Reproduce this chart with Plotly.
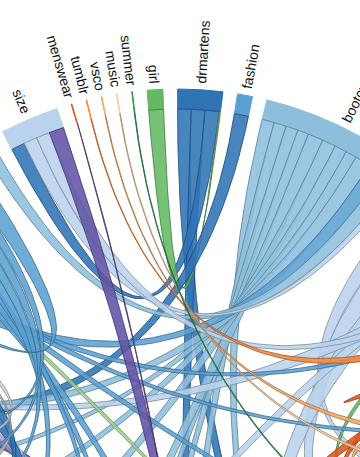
import math
import plotly.graph_objects as go

# ---------------- data ----------------
group_names = ["drmartens", "fashion", "bootcut", "boots", "style", "grunge", "punk", "vintage",
               "docs", "leather", "black", "outfit", "docmartens", "ootd", "streetstyle", "love",
               "shoes", "instagood", "shoeporn", "london", "doc", "boot", "mensstyle", "size",
               "menswear", "tumblr", "vsco", "music", "summer", "girl"]

group_colors = ["#2f73b5", "#5ba0d3", "#8dbfdd", "#b9d3ec", "#f8863a", "#e0571a", "#f7a865", "#f7cc9f",
                "#2f9a4f", "#64b964", "#98d18f", "#c0e3b8", "#6253a5", "#958fc3", "#b5b4d6", "#d2d2e6",
                "#5e5e5e", "#8f8f8f", "#b6b6b6", "#d2d2d2", "#2f73b5", "#5ba0d3", "#8dbfdd", "#b9d3ec",
                "#e0571a", "#f8863a", "#f7a865", "#f7cc9f", "#2f9a4f", "#64b964"]

# chords: source group, target group, width at source end, width at target end
chord_src = [0, 0, 0, 0, 1,
             2, 2, 2, 2, 2, 2, 2, 2, 2, 2, 2, 2,
             3, 12, 12, 4, 6, 7, 8,
             4, 6, 8, 10, 12, 13, 14, 16, 17, 18, 19, 20,
             3, 3, 3, 3, 3,
             4,
             5, 5, 5,
             6, 6, 6,
             7, 7, 7,
             8, 8, 8, 8,
             9, 9,
             10, 10, 10,
             11, 11,
             12, 12, 12,
             13, 13,
             14, 14,
             15, 15,
             16, 17, 17, 18, 19]
chord_tgt = [12, 13, 23, 29, 20,
             12, 13, 14, 15, 16, 17, 18, 19, 20, 21, 22, 23,
             23, 23, 24, 25, 26, 27, 28,
             21, 21, 21, 21, 21, 21, 21, 21, 21, 21, 21, 21,
             8, 10, 12, 16, 20,
             9,
             5, 9, 13,
             8, 11, 13,
             9, 12, 14,
             16, 17, 18, 19,
             16, 17,
             16, 18, 17,
             17, 19,
             16, 18, 20,
             16, 20,
             17, 20,
             16, 20,
             20, 20, 19, 20, 20]
chord_vsrc = [22, 22, 23, 2, 23,
              20, 20, 20, 18, 25, 22, 20, 18, 25, 24, 24, 10,
              15, 30, 3, 18, 12, 8, 4,
              10, 8, 10, 12, 12, 10, 8, 12, 10, 10, 8, 10,
              30, 45, 50, 20, 30,
              12,
              20, 20, 20,
              25, 25, 20,
              20, 17, 15,
              40, 36, 30, 30,
              30, 25,
              30, 30, 28,
              20, 20,
              35, 30, 28,
              28, 25,
              22, 20,
              22, 20,
              28, 25, 20, 20, 15]
chord_vtgt = [20, 15, 22, 24, 30,
              15, 12, 10, 8, 20, 18, 15, 10, 20, 25, 18, 22,
              22, 24, 1, 1, 1, 1, 1,
              14, 12, 14, 8, 18, 16, 14, 20, 18, 18, 16, 27,
              20, 30, 35, 15, 12,
              15,
              20, 15, 15,
              20, 20, 15,
              15, 12, 10,
              35, 30, 25, 20,
              25, 20,
              25, 25, 22,
              15, 15,
              30, 25, 25,
              20, 20,
              20, 20,
              20, 18,
              30, 30, 12, 10, 15]

# ---------------- layout constants ----------------
W, H = 360, 457
CX, CY = 177, 466          # circle centre in pixel space
R_OUT, R_IN = 377, 357
PAD = 2.25                  # degrees between groups
ROT = 0.1                   # start angle offset (deg)
LABEL_R = 383.5
FONT = "Liberation Sans, Arial, Helvetica, sans-serif"

N = len(group_names)


def hex_rgb(h):
    h = h.lstrip("#")
    return tuple(int(h[i:i + 2], 16) for i in (0, 2, 4))


def rgba(h, a):
    r, g, b = hex_rgb(h)
    return f"rgba({r},{g},{b},{a})"


def darker(h, a=1.0):
    r, g, b = hex_rgb(h)
    return f"rgba({int(r * 0.7)},{int(g * 0.7)},{int(b * 0.7)},{a})"


def pt(r, a):
    t = math.radians(a)
    return r * math.sin(t), r * math.cos(t)


def arc(r, a0, a1, step=0.4):
    n = max(2, int(abs(a1 - a0) / step) + 2)
    return [pt(r, a0 + (a1 - a0) * k / (n - 1)) for k in range(n)]


def bez(p0, p2, n=48):
    out = []
    for k in range(1, n + 1):
        t = k / n
        out.append(((1 - t) ** 2 * p0[0] + t * t * p2[0], (1 - t) ** 2 * p0[1] + t * t * p2[1]))
    return out


# group totals and subgroup layout (d3.chord style, subgroups in index order)
totals = [0.0] * N
subs = [[] for _ in range(N)]
for c, (s, t, vs, vt) in enumerate(zip(chord_src, chord_tgt, chord_vsrc, chord_vtgt)):
    if s == t:
        totals[s] += vs
        subs[s].append((t, c, 0, vs))
    else:
        totals[s] += vs
        totals[t] += vt
        subs[s].append((t, c, 0, vs))
        subs[t].append((s, c, 1, vt))
k = (360.0 - N * PAD) / sum(totals)

g_start, g_end = [0.0] * N, [0.0] * N
end_angles = {}
x = ROT
for i in range(N):
    g_start[i] = x
    for other, c, side, v in sorted(subs[i]):
        end_angles[(c, side)] = (x, x + v * k)
        x += v * k
    g_end[i] = x
    x += PAD

fig = go.Figure()

# group arcs
for i in range(N):
    outer = arc(R_OUT, g_start[i], g_end[i])
    inner = arc(R_IN, g_end[i], g_start[i])
    pts = outer + inner + [outer[0]]
    fig.add_trace(go.Scatter(x=[p[0] for p in pts], y=[p[1] for p in pts], mode="lines",
                             fill="toself", fillcolor=group_colors[i],
                             line=dict(color=group_colors[i], width=1),
                             hoverinfo="skip", showlegend=False))

# ribbons (d3 order: by source, then target)
order = sorted(range(len(chord_src)), key=lambda c: (chord_src[c], chord_tgt[c]))
for c in order:
    s, t, vs, vt = chord_src[c], chord_tgt[c], chord_vsrc[c], chord_vtgt[c]
    sa0, sa1 = end_angles[(c, 0)]
    col = group_colors[s] if vs >= vt else group_colors[t]
    pts = arc(R_IN, sa0, sa1)
    if s != t:
        ta0, ta1 = end_angles[(c, 1)]
        pts += bez(pts[-1], pt(R_IN, ta0))
        pts += arc(R_IN, ta0, ta1)
    pts += bez(pts[-1], pt(R_IN, sa0))
    fig.add_trace(go.Scatter(x=[p[0] for p in pts], y=[p[1] for p in pts], mode="lines",
                             fill="toself", fillcolor=rgba(col, 0.88),
                             line=dict(color=darker(col, 0.85), width=1),
                             hoverinfo="skip", showlegend=False))

# labels
CW = {"a": 556, "b": 556, "c": 500, "d": 556, "e": 556, "f": 278, "g": 556, "h": 556, "i": 222,
      "j": 222, "k": 500, "l": 222, "m": 833, "n": 556, "o": 556, "p": 556, "q": 556, "r": 333,
      "s": 500, "t": 278, "u": 556, "v": 500, "w": 722, "x": 500, "y": 500, "z": 500}
FS = 14
y0 = CY - H
for i in range(N):
    name = group_names[i]
    mid = (g_start[i] + g_end[i]) / 2
    ang = mid - 90 if mid < 180 else mid + 90 - 360
    w = sum(CW.get(ch, 556) for ch in name) * FS / 1000.0
    px, py = pt(LABEL_R + w / 2, mid)
    fig.add_annotation(x=(px + CX) / W, y=(py - y0) / H, xref="paper", yref="paper",
                       text=name, showarrow=False, textangle=ang,
                       xanchor="center", yanchor="middle",
                       font=dict(family=FONT, size=FS, color="#111111"))

fig.update_layout(width=W, height=H, autosize=False,
                  margin=dict(l=0, r=0, t=0, b=0, pad=0),
                  paper_bgcolor="#ffffff", plot_bgcolor="#ffffff",
                  xaxis=dict(range=[-CX, W - CX], visible=False, fixedrange=True),
                  yaxis=dict(range=[y0, CY], visible=False, fixedrange=True),
                  hovermode=False, showlegend=False)

fig.write_html("out.html", config={"displayModeBar": False, "staticPlot": True},
               post_script="document.body.style.margin='0px';document.body.style.overflow='hidden';")
